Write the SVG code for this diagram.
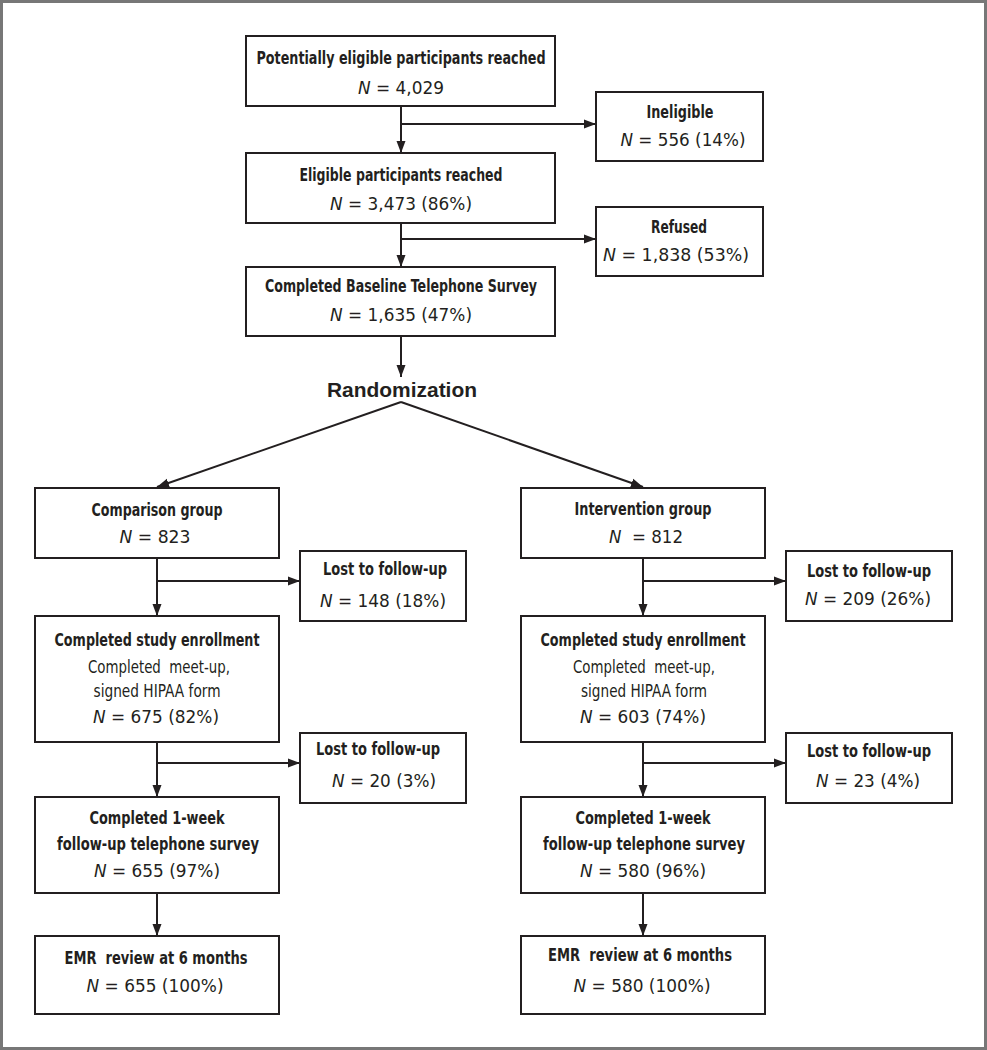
<svg xmlns="http://www.w3.org/2000/svg" width="987" height="1050" viewBox="0 0 987 1050">
<style>
.box{fill:#fff;stroke:#231f20;stroke-width:2}
.ln{fill:none;stroke:#231f20;stroke-width:2}
text{fill:#231f20;text-anchor:middle;font-family:"Liberation Sans Narrow","DejaVu Sans Condensed","Liberation Sans",sans-serif;font-size:18px}
.b{font-weight:bold}
.rand{font-family:"Liberation Sans",Arial,sans-serif;font-weight:bold;font-size:21px}
.i{font-style:italic}
</style>
<defs>
<marker id="ah" markerUnits="userSpaceOnUse" markerWidth="13" markerHeight="10" refX="12" refY="5" orient="auto">
<path d="M0,0.5 L12,5 L0,9.5 z" fill="#231f20"/>
</marker>
</defs>
<rect x="1.5" y="1.5" width="984" height="1047" fill="#fff" stroke="#777" stroke-width="3"/>
<g id="connectors">
<line class="ln" x1="401" y1="106" x2="401" y2="153" marker-end="url(#ah)"/>
<line class="ln" x1="401" y1="124" x2="596" y2="124" marker-end="url(#ah)"/>
<line class="ln" x1="401" y1="223" x2="401" y2="267" marker-end="url(#ah)"/>
<line class="ln" x1="401" y1="239" x2="596" y2="239" marker-end="url(#ah)"/>
<line class="ln" x1="401" y1="336" x2="401" y2="377" marker-end="url(#ah)"/>
<line class="ln" x1="401" y1="402" x2="157" y2="487" marker-end="url(#ah)"/>
<line class="ln" x1="401" y1="402" x2="643" y2="487" marker-end="url(#ah)"/>
<line class="ln" x1="157" y1="558" x2="157" y2="616" marker-end="url(#ah)"/>
<line class="ln" x1="157" y1="581" x2="300" y2="581" marker-end="url(#ah)"/>
<line class="ln" x1="157" y1="742" x2="157" y2="797" marker-end="url(#ah)"/>
<line class="ln" x1="157" y1="763" x2="300" y2="763" marker-end="url(#ah)"/>
<line class="ln" x1="157" y1="893" x2="157" y2="936" marker-end="url(#ah)"/>
<line class="ln" x1="643" y1="558" x2="643" y2="616" marker-end="url(#ah)"/>
<line class="ln" x1="643" y1="581" x2="786" y2="581" marker-end="url(#ah)"/>
<line class="ln" x1="643" y1="742" x2="643" y2="797" marker-end="url(#ah)"/>
<line class="ln" x1="643" y1="763" x2="786" y2="763" marker-end="url(#ah)"/>
<line class="ln" x1="643" y1="893" x2="643" y2="936" marker-end="url(#ah)"/>
</g>
<g id="n-reached">
<rect class="box" x="246" y="36" width="309" height="70"/>
<text class="b" x="401" y="64" textLength="289" lengthAdjust="spacingAndGlyphs">Potentially eligible participants reached</text>
<text x="401" y="94" textLength="86" lengthAdjust="spacingAndGlyphs"><tspan class="i">N</tspan> = 4,029</text>
</g>
<g id="n-ineligible">
<rect class="box" x="596" y="92" width="167" height="69"/>
<text class="b" x="680" y="118" textLength="67" lengthAdjust="spacingAndGlyphs">Ineligible</text>
<text x="683" y="146" textLength="125" lengthAdjust="spacingAndGlyphs"><tspan class="i">N</tspan> = 556 (14%)</text>
</g>
<g id="n-eligible">
<rect class="box" x="246" y="153" width="309" height="70"/>
<text class="b" x="401" y="181" textLength="203" lengthAdjust="spacingAndGlyphs">Eligible participants reached</text>
<text x="401" y="210" textLength="142" lengthAdjust="spacingAndGlyphs"><tspan class="i">N</tspan> = 3,473 (86%)</text>
</g>
<g id="n-refused">
<rect class="box" x="596" y="207" width="167" height="69"/>
<text class="b" x="679" y="233" textLength="56" lengthAdjust="spacingAndGlyphs">Refused</text>
<text x="676" y="261" textLength="146" lengthAdjust="spacingAndGlyphs"><tspan class="i">N</tspan> = 1,838 (53%)</text>
</g>
<g id="n-baseline">
<rect class="box" x="246" y="267" width="309" height="69"/>
<text class="b" x="401" y="292" textLength="272" lengthAdjust="spacingAndGlyphs">Completed Baseline Telephone Survey</text>
<text x="401" y="321" textLength="142" lengthAdjust="spacingAndGlyphs"><tspan class="i">N</tspan> = 1,635 (47%)</text>
</g>
<g id="n-randomization">
<text class="rand" x="402" y="397" textLength="150" lengthAdjust="spacingAndGlyphs">Randomization</text>
</g>
<g id="n-comparison">
<rect class="box" x="35" y="488" width="244" height="70"/>
<text class="b" x="157" y="516" textLength="131" lengthAdjust="spacingAndGlyphs">Comparison group</text>
<text x="155" y="543" textLength="71" lengthAdjust="spacingAndGlyphs"><tspan class="i">N</tspan> = 823</text>
</g>
<g id="n-lost1-left">
<rect class="box" x="300" y="551" width="166" height="70"/>
<text class="b" x="385" y="575" textLength="124" lengthAdjust="spacingAndGlyphs">Lost to follow-up</text>
<text x="383" y="607" textLength="126" lengthAdjust="spacingAndGlyphs"><tspan class="i">N</tspan> = 148 (18%)</text>
</g>
<g id="n-enroll-left">
<rect class="box" x="35" y="616" width="244" height="126"/>
<text class="b" x="157" y="646" textLength="205" lengthAdjust="spacingAndGlyphs">Completed study enrollment</text>
<text x="159" y="673" textLength="142" lengthAdjust="spacingAndGlyphs" xml:space="preserve">Completed  meet-up,</text>
<text x="157" y="697" textLength="127" lengthAdjust="spacingAndGlyphs">signed HIPAA form</text>
<text x="156" y="723" textLength="126" lengthAdjust="spacingAndGlyphs"><tspan class="i">N</tspan> = 675 (82%)</text>
</g>
<g id="n-lost2-left">
<rect class="box" x="300" y="733" width="166" height="70"/>
<text class="b" x="378" y="755" textLength="124" lengthAdjust="spacingAndGlyphs">Lost to follow-up</text>
<text x="384" y="787" textLength="104" lengthAdjust="spacingAndGlyphs"><tspan class="i">N</tspan> = 20 (3%)</text>
</g>
<g id="n-week-left">
<rect class="box" x="35" y="797" width="244" height="96"/>
<text class="b" x="157" y="824" textLength="135" lengthAdjust="spacingAndGlyphs">Completed 1-week</text>
<text class="b" x="158" y="850" textLength="202" lengthAdjust="spacingAndGlyphs">follow-up telephone survey</text>
<text x="157" y="877" textLength="126" lengthAdjust="spacingAndGlyphs"><tspan class="i">N</tspan> = 655 (97%)</text>
</g>
<g id="n-emr-left">
<rect class="box" x="35" y="936" width="244" height="78"/>
<text class="b" x="156" y="964" textLength="183" lengthAdjust="spacingAndGlyphs" xml:space="preserve">EMR  review at 6 months</text>
<text x="155" y="992" textLength="137" lengthAdjust="spacingAndGlyphs"><tspan class="i">N</tspan> = 655 (100%)</text>
</g>
<g id="n-intervention">
<rect class="box" x="521" y="488" width="244" height="70"/>
<text class="b" x="643" y="515" textLength="137" lengthAdjust="spacingAndGlyphs">Intervention group</text>
<text x="646" y="543" textLength="74" lengthAdjust="spacingAndGlyphs" xml:space="preserve"><tspan class="i">N</tspan>  = 812</text>
</g>
<g id="n-lost1-right">
<rect class="box" x="786" y="551" width="166" height="70"/>
<text class="b" x="869" y="577" textLength="124" lengthAdjust="spacingAndGlyphs">Lost to follow-up</text>
<text x="868" y="605" textLength="126" lengthAdjust="spacingAndGlyphs"><tspan class="i">N</tspan> = 209 (26%)</text>
</g>
<g id="n-enroll-right">
<rect class="box" x="521" y="616" width="244" height="126"/>
<text class="b" x="643" y="646" textLength="205" lengthAdjust="spacingAndGlyphs">Completed study enrollment</text>
<text x="644" y="673" textLength="142" lengthAdjust="spacingAndGlyphs" xml:space="preserve">Completed  meet-up,</text>
<text x="644" y="697" textLength="126" lengthAdjust="spacingAndGlyphs">signed HIPAA form</text>
<text x="643" y="723" textLength="126" lengthAdjust="spacingAndGlyphs"><tspan class="i">N</tspan> = 603 (74%)</text>
</g>
<g id="n-lost2-right">
<rect class="box" x="786" y="733" width="166" height="70"/>
<text class="b" x="869" y="757" textLength="124" lengthAdjust="spacingAndGlyphs">Lost to follow-up</text>
<text x="868" y="787" textLength="104" lengthAdjust="spacingAndGlyphs"><tspan class="i">N</tspan> = 23 (4%)</text>
</g>
<g id="n-week-right">
<rect class="box" x="521" y="797" width="244" height="96"/>
<text class="b" x="643" y="824" textLength="135" lengthAdjust="spacingAndGlyphs">Completed 1-week</text>
<text class="b" x="644" y="850" textLength="202" lengthAdjust="spacingAndGlyphs">follow-up telephone survey</text>
<text x="643" y="877" textLength="126" lengthAdjust="spacingAndGlyphs"><tspan class="i">N</tspan> = 580 (96%)</text>
</g>
<g id="n-emr-right">
<rect class="box" x="521" y="936" width="244" height="78"/>
<text class="b" x="640" y="961" textLength="184" lengthAdjust="spacingAndGlyphs" xml:space="preserve">EMR  review at 6 months</text>
<text x="642" y="992" textLength="137" lengthAdjust="spacingAndGlyphs"><tspan class="i">N</tspan> = 580 (100%)</text>
</g>
</svg>
